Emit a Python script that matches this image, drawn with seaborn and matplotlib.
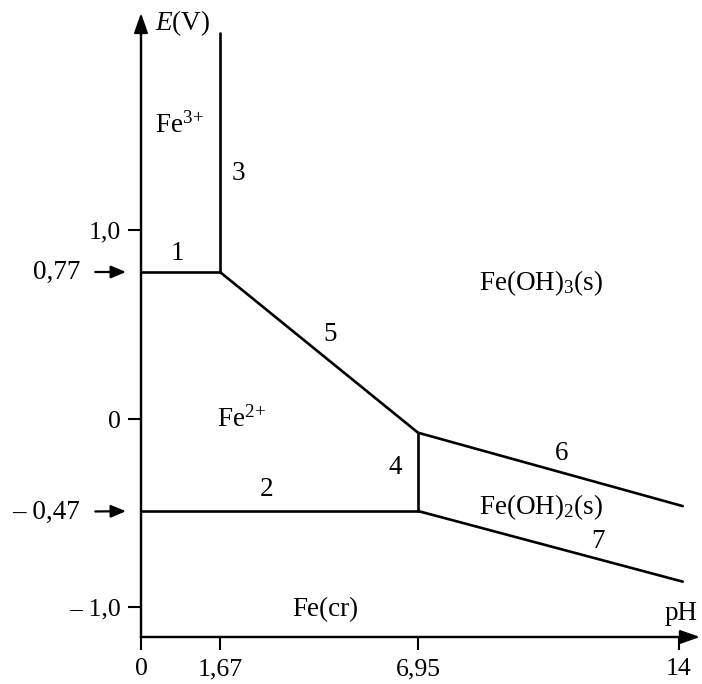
import numpy as np
import pandas as pd
import matplotlib
matplotlib.use("Agg")
import matplotlib.pyplot as plt
import seaborn as sns

# ---------------- data ----------------
ph_ticks = [0, 1.67, 6.95, 14]
ph_tick_labels = ["0", "1,67", "6,95", "14"]
e_ticks = [1.0, 0.0, -1.0]
e_tick_labels = ["1,0", "0", "\u2013 1,0"]
e_marked = [0.77, -0.47]
e_marked_labels = ["0,77", "\u2013 0,47"]

seg_id = ["1", "1", "2", "2", "3", "3", "4", "4", "5", "5", "6", "6", "7", "7"]
seg_ph = [0, 1.67, 0, 6.95, 1.67, 1.67, 6.95, 6.95, 1.67, 6.95, 6.95, 14.1, 6.95, 14.1]
seg_e = [0.77, 0.77, -0.47, -0.47, 0.77, 2.08, -0.07, -0.47, 0.77, -0.07,
         -0.07, -0.445, -0.47, -0.86]

species = [r"Fe$^{3\!+}$", r"Fe$^{2\!+}$", "Fe(OH)$_3$(s)", "Fe(OH)$_2$(s)", "Fe(cr)"]
line_numbers = ["1", "2", "3", "4", "5", "6", "7"]

df = pd.DataFrame({"seg": seg_id, "pH": seg_ph, "E": seg_e})

# ---------------- style ----------------
sns.set_theme(style="white")
plt.rcParams["font.family"] = ["Liberation Serif", "DejaVu Serif"]
plt.rcParams["mathtext.fontset"] = "custom"
plt.rcParams["mathtext.rm"] = "Liberation Serif"
plt.rcParams["mathtext.it"] = "Liberation Serif:italic"
plt.rcParams["text.color"] = "black"

W, H = 702, 684
fig = plt.figure(figsize=(W / 100, H / 100), dpi=100)
ax = fig.add_axes([0, 0, 1, 1])
ax.set_facecolor("white")


def pw(v, xk, yk):
    v = np.asarray(v, dtype=float)
    out = np.interp(v, xk, yk)
    s0 = (yk[1] - yk[0]) / (xk[1] - xk[0])
    s1 = (yk[-1] - yk[-2]) / (xk[-1] - xk[-2])
    out = np.where(v < xk[0], yk[0] + (v - xk[0]) * s0, out)
    out = np.where(v > xk[-1], yk[-1] + (v - xk[-1]) * s1, out)
    return out


# schematic (non-uniform) axes of the textbook figure
x_knots_ph = [0, 1.67, 6.95, 14]
x_knots_px = [141, 220, 418, 679]
y_knots_e = [-1.0, -0.47, 0.0, 0.77, 1.0]
y_knots_px = [H - 607, H - 511, H - 419, H - 272, H - 230]

xf = lambda v: pw(v, x_knots_ph, x_knots_px)
xi = lambda v: pw(v, x_knots_px, x_knots_ph)
yf = lambda v: pw(v, y_knots_e, y_knots_px)
yi = lambda v: pw(v, y_knots_px, y_knots_e)

sns.lineplot(data=df, x="pH", y="E", units="seg", estimator=None, sort=False,
             color="black", lw=1.9, ax=ax)

ax.set_xscale("function", functions=(xf, xi))
ax.set_yscale("function", functions=(yf, yi))
ax.set_xlim(float(xi(0)), float(xi(W)))
ax.set_ylim(float(yi(0)), float(yi(H)))
ax.set_xlabel("")
ax.set_ylabel("")

e_bot = float(yi(H - 637))
e_top = float(yi(H - 13))
ph_end = float(xi(700))

for s in ["top", "right"]:
    ax.spines[s].set_visible(False)
ax.spines["left"].set_position(("data", 0))
ax.spines["bottom"].set_position(("data", e_bot))
ax.spines["left"].set_bounds(e_bot, float(yi(H - 25)))
ax.spines["bottom"].set_bounds(0, float(xi(690)))
for s in ["left", "bottom"]:
    ax.spines[s].set_color("black")
    ax.spines[s].set_linewidth(1.6)

ax.set_xticks(ph_ticks)
ax.set_xticklabels(ph_tick_labels)
ax.set_yticks(e_ticks)
ax.set_yticklabels(e_tick_labels)
ax.xaxis.set_minor_locator(matplotlib.ticker.NullLocator())
ax.yaxis.set_minor_locator(matplotlib.ticker.NullLocator())
ax.tick_params(axis="both", which="major", direction="out", length=9.4, width=1.5,
               color="black", labelsize=18.5, labelcolor="black",
               bottom=True, left=True, top=False, right=False)
ax.tick_params(axis="x", pad=6)
ax.tick_params(axis="y", pad=5)

# axis arrows
arrow_style = dict(arrowstyle="-|>,head_length=0.8,head_width=0.28", lw=1.6,
                   color="black", shrinkA=0, shrinkB=0, mutation_scale=15)
ax.annotate("", xy=(0, e_top), xytext=(0, e_bot), arrowprops=arrow_style)
ax.annotate("", xy=(ph_end, e_bot), xytext=(0, e_bot), arrowprops=arrow_style)


def P(x, y):
    return (x / W, 1 - y / H)


fs = 19.5
# marked potentials with arrows
for v, lab, ypx in zip(e_marked, e_marked_labels, [272, 512]):
    ax.annotate(lab, xy=(0, v), xycoords="data", xytext=P(80, ypx),
                textcoords="figure fraction", ha="right", va="center", fontsize=fs,
                arrowprops=dict(arrowstyle="-|>,head_length=0.6,head_width=0.25",
                                lw=1.6, color="black", shrinkA=8.6, shrinkB=10.8,
                                mutation_scale=15))

# axis titles
fig.text(*P(155, 30), r"$E$(V)", fontsize=fs, ha="left", va="baseline")
fig.text(*P(665, 620), "pH", fontsize=fs, ha="left", va="baseline")

# species
fig.text(*P(155, 133), species[0], fontsize=fs, ha="left", va="baseline")
fig.text(*P(217, 427), species[1], fontsize=fs, ha="left", va="baseline")
fig.text(*P(541, 290), species[2], fontsize=fs, ha="center", va="baseline")
fig.text(*P(541, 514), species[3], fontsize=fs, ha="center", va="baseline")
fig.text(*P(325, 616), species[4], fontsize=fs, ha="center", va="baseline")

# line numbers
num_pos = [(177, 254), (267, 489), (238, 174), (395, 468), (330, 335), (562, 454), (598, 542)]
for lab, (x, y) in zip(line_numbers, num_pos):
    fig.text(*P(x, y), lab, fontsize=fs, ha="center", va="center")

fig.savefig("out.png", dpi=100, facecolor="white")
